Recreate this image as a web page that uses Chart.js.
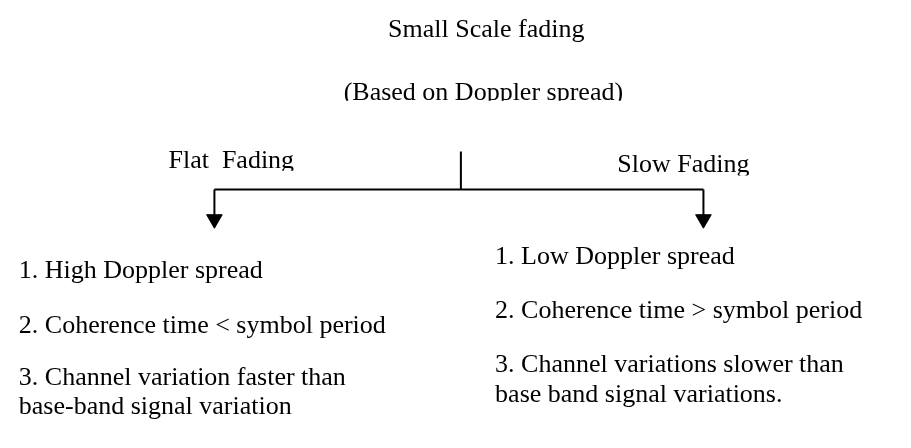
<!DOCTYPE html>
<html>
<head>
<meta charset="utf-8">
<script src="https://cdn.jsdelivr.net/npm/chart.js@4"></script>
<style>
  html, body { margin: 0; padding: 0; background: #fff; }
  canvas { display: block; }
</style>
</head>
<body>
<canvas id="tree" width="911" height="448"></canvas>
<script>
// texts of the diagram
const heading = 'Small Scale fading';
const subheading = '(Based on Doppler spread)';
const branches = ['Flat  Fading', 'Slow Fading'];
const flatTraits = ['1. High Doppler spread', '2. Coherence time < symbol period', '3. Channel variation faster than', 'base-band signal variation'];
const slowTraits = ['1. Low Doppler spread', '2. Coherence time > symbol period', '3. Channel variations slower than', 'base band signal variations.'];

// layout in axis units (axes run 0..911 / 0..448, so 1 unit = 1 px)
const stemX = 461, stemTop = 148, barY = 188;
const branchX = [209, 709];
const arrowTip = 228;
const headSize = 9;
const headingPos = [487, 28];
const subheadingPos = [484, 94];
const branchLabelPos = [[162, 165], [621, 170]];
const flatPos = { x: 9, y: [281, 338, 392, 423] };
const slowPos = { x: 496, y: [266, 322, 379, 410] };

const font = "26px 'Liberation Serif', 'Times New Roman', serif";

const seg = (a, b) => ({
    data: [a, b],
    showLine: true,
    borderColor: '#000',
    borderWidth: 2,
    pointRadius: 0,
    fill: false
});

const datasets = [
    seg({ x: stemX, y: stemTop }, { x: stemX, y: barY }),
    seg({ x: branchX[0], y: barY }, { x: branchX[1], y: barY }),
    ...branchX.map(bx => seg({ x: bx, y: barY }, { x: bx, y: arrowTip - headSize })),
    {
        // arrow heads, pointing down
        data: branchX.map(bx => ({ x: bx, y: arrowTip - headSize })),
        showLine: false,
        pointStyle: 'triangle',
        rotation: 180,
        pointRadius: headSize,
        backgroundColor: '#000',
        borderColor: '#000',
        borderWidth: 1
    }
];

const textPlugin = {
    id: 'texts',
    afterDatasetsDraw(chart) {
        const { ctx, scales } = chart;
        const px = v => scales.x.getPixelForValue(v);
        const py = v => scales.y.getPixelForValue(v);
        // the boxed labels in the source lose their descenders, so clip just under the baseline
        const put = (txt, x, y, align, clip) => {
            ctx.save();
            if (clip) {
                ctx.beginPath();
                ctx.rect(0, 0, chart.width, py(y) + clip);
                ctx.clip();
            }
            ctx.textAlign = align;
            ctx.fillText(txt, px(x), py(y));
            ctx.restore();
        };
        ctx.save();
        ctx.fillStyle = '#000';
        ctx.font = font;
        ctx.textBaseline = 'alphabetic';

        put(heading, headingPos[0], headingPos[1], 'center');
        put(subheading, subheadingPos[0], subheadingPos[1], 'center', 1);
        branches.forEach((b, i) => put(b, branchLabelPos[i][0], branchLabelPos[i][1], 'left', 3));
        flatTraits.forEach((t, i) => put(t, flatPos.x, flatPos.y[i], 'left'));
        slowTraits.forEach((t, i) => put(t, slowPos.x, slowPos.y[i], 'left'));
        ctx.restore();
    }
};

new Chart(document.getElementById('tree'), {
    type: 'scatter',
    data: { datasets },
    options: {
        responsive: false,
        animation: false,
        devicePixelRatio: 1,
        layout: { padding: 0 },
        plugins: { legend: { display: false }, tooltip: { enabled: false }, title: { display: false } },
        scales: {
            x: { type: 'linear', min: 0, max: 911, display: false },
            y: { type: 'linear', min: 0, max: 448, reverse: true, display: false }
        }
    },
    plugins: [textPlugin]
});
</script>
</body>
</html>
